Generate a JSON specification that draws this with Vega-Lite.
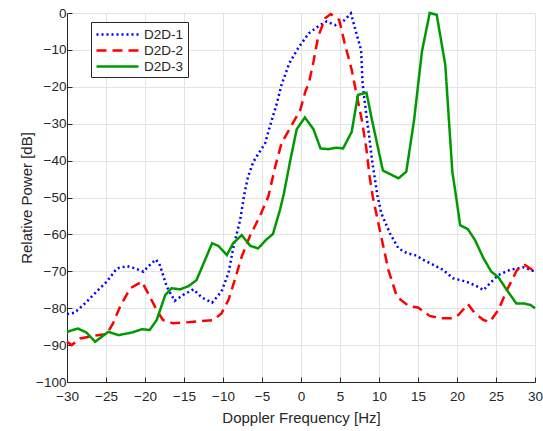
{
  "$schema": "https://vega.github.io/schema/vega-lite/v6.json",
  "width": 468,
  "height": 369,
  "autosize": {"type": "none"},
  "padding": {"left": 67, "top": 13, "right": 8, "bottom": 49},
  "background": "white",
  "data": {
    "values": [
      {"s":"D2D-1","f":-30,"p":-81.6},{"s":"D2D-1","f":-29,"p":-81.2},{"s":"D2D-1","f":-27.7,"p":-78.7},{"s":"D2D-1","f":-26.2,"p":-75.5},{"s":"D2D-1","f":-24.9,"p":-72.8},{"s":"D2D-1","f":-23.6,"p":-69.2},{"s":"D2D-1","f":-22.3,"p":-68.6},{"s":"D2D-1","f":-21.3,"p":-69.2},{"s":"D2D-1","f":-20.2,"p":-70.1},{"s":"D2D-1","f":-19.6,"p":-68.7},{"s":"D2D-1","f":-18.6,"p":-66.8},{"s":"D2D-1","f":-18.1,"p":-68.3},{"s":"D2D-1","f":-17.2,"p":-74.2},{"s":"D2D-1","f":-16.2,"p":-78.0},{"s":"D2D-1","f":-15.1,"p":-76.4},{"s":"D2D-1","f":-13.8,"p":-74.9},{"s":"D2D-1","f":-12.7,"p":-77.1},{"s":"D2D-1","f":-11.4,"p":-78.5},{"s":"D2D-1","f":-10.2,"p":-75.5},{"s":"D2D-1","f":-9.3,"p":-70.5},{"s":"D2D-1","f":-8.7,"p":-63.8},{"s":"D2D-1","f":-7.8,"p":-56.1},{"s":"D2D-1","f":-7.3,"p":-49.5},{"s":"D2D-1","f":-6.8,"p":-44.4},{"s":"D2D-1","f":-6.1,"p":-40.3},{"s":"D2D-1","f":-5.3,"p":-37.6},{"s":"D2D-1","f":-4.6,"p":-35.3},{"s":"D2D-1","f":-4.0,"p":-30.8},{"s":"D2D-1","f":-3.1,"p":-24.5},{"s":"D2D-1","f":-2.5,"p":-19.5},{"s":"D2D-1","f":-1.5,"p":-13.6},{"s":"D2D-1","f":-0.3,"p":-9.3},{"s":"D2D-1","f":1.0,"p":-5.5},{"s":"D2D-1","f":2.4,"p":-3.3},{"s":"D2D-1","f":3.3,"p":-2.3},{"s":"D2D-1","f":4.4,"p":-3.3},{"s":"D2D-1","f":5.4,"p":-2.3},{"s":"D2D-1","f":6.4,"p":-0.1},{"s":"D2D-1","f":7.1,"p":-5.5},{"s":"D2D-1","f":7.7,"p":-10.0},{"s":"D2D-1","f":7.9,"p":-19.1},{"s":"D2D-1","f":8.3,"p":-26.3},{"s":"D2D-1","f":8.8,"p":-34.4},{"s":"D2D-1","f":9.1,"p":-39.8},{"s":"D2D-1","f":9.5,"p":-45.3},{"s":"D2D-1","f":9.8,"p":-49.5},{"s":"D2D-1","f":10.3,"p":-54.3},{"s":"D2D-1","f":11.4,"p":-59.7},{"s":"D2D-1","f":12.5,"p":-63.8},{"s":"D2D-1","f":13.6,"p":-65.1},{"s":"D2D-1","f":14.6,"p":-65.6},{"s":"D2D-1","f":15.7,"p":-66.9},{"s":"D2D-1","f":17.0,"p":-68.3},{"s":"D2D-1","f":18.2,"p":-69.6},{"s":"D2D-1","f":19.5,"p":-71.9},{"s":"D2D-1","f":21.2,"p":-72.8},{"s":"D2D-1","f":22.5,"p":-74.0},{"s":"D2D-1","f":23.4,"p":-75.1},{"s":"D2D-1","f":24.2,"p":-73.3},{"s":"D2D-1","f":25.3,"p":-71.0},{"s":"D2D-1","f":26.8,"p":-69.6},{"s":"D2D-1","f":28.5,"p":-68.9},{"s":"D2D-1","f":30,"p":-70.1},
      {"s":"D2D-2","f":-30,"p":-89.1},{"s":"D2D-2","f":-29.4,"p":-90.0},{"s":"D2D-2","f":-28.3,"p":-88.2},{"s":"D2D-2","f":-26.6,"p":-87.5},{"s":"D2D-2","f":-24.9,"p":-87.0},{"s":"D2D-2","f":-24.1,"p":-84.1},{"s":"D2D-2","f":-23.2,"p":-79.6},{"s":"D2D-2","f":-21.9,"p":-74.6},{"s":"D2D-2","f":-20.4,"p":-72.8},{"s":"D2D-2","f":-19.6,"p":-76.0},{"s":"D2D-2","f":-18.5,"p":-80.5},{"s":"D2D-2","f":-17.7,"p":-83.2},{"s":"D2D-2","f":-16.4,"p":-84.1},{"s":"D2D-2","f":-13.8,"p":-83.7},{"s":"D2D-2","f":-11.2,"p":-83.2},{"s":"D2D-2","f":-10.2,"p":-81.4},{"s":"D2D-2","f":-9.3,"p":-77.8},{"s":"D2D-2","f":-8.5,"p":-72.4},{"s":"D2D-2","f":-7.6,"p":-66.0},{"s":"D2D-2","f":-6.5,"p":-60.2},{"s":"D2D-2","f":-5.3,"p":-55.2},{"s":"D2D-2","f":-4.2,"p":-49.8},{"s":"D2D-2","f":-3.3,"p":-41.6},{"s":"D2D-2","f":-2.5,"p":-35.3},{"s":"D2D-2","f":-1.4,"p":-31.2},{"s":"D2D-2","f":-0.1,"p":-26.3},{"s":"D2D-2","f":0.6,"p":-21.0},{"s":"D2D-2","f":1.0,"p":-19.1},{"s":"D2D-2","f":1.6,"p":-13.2},{"s":"D2D-2","f":2.2,"p":-6.4},{"s":"D2D-2","f":3.1,"p":-1.4},{"s":"D2D-2","f":3.8,"p":-0.3},{"s":"D2D-2","f":4.9,"p":-1.9},{"s":"D2D-2","f":5.6,"p":-8.2},{"s":"D2D-2","f":6.5,"p":-15.4},{"s":"D2D-2","f":7.1,"p":-21.8},{"s":"D2D-2","f":7.8,"p":-29.0},{"s":"D2D-2","f":8.4,"p":-37.1},{"s":"D2D-2","f":8.8,"p":-44.4},{"s":"D2D-2","f":9.2,"p":-49.8},{"s":"D2D-2","f":10.1,"p":-58.8},{"s":"D2D-2","f":11.2,"p":-69.6},{"s":"D2D-2","f":12.3,"p":-76.9},{"s":"D2D-2","f":13.8,"p":-79.4},{"s":"D2D-2","f":15.0,"p":-79.8},{"s":"D2D-2","f":16.5,"p":-82.1},{"s":"D2D-2","f":17.8,"p":-82.7},{"s":"D2D-2","f":19.3,"p":-82.7},{"s":"D2D-2","f":20.2,"p":-81.8},{"s":"D2D-2","f":21.4,"p":-78.9},{"s":"D2D-2","f":22.3,"p":-81.4},{"s":"D2D-2","f":23.4,"p":-83.2},{"s":"D2D-2","f":24.2,"p":-83.7},{"s":"D2D-2","f":25.3,"p":-80.5},{"s":"D2D-2","f":26.4,"p":-75.1},{"s":"D2D-2","f":27.7,"p":-69.6},{"s":"D2D-2","f":28.7,"p":-68.3},{"s":"D2D-2","f":30,"p":-70.1},
      {"s":"D2D-3","f":-30,"p":-86.4},{"s":"D2D-3","f":-28.6,"p":-85.5},{"s":"D2D-3","f":-27.5,"p":-86.6},{"s":"D2D-3","f":-26.4,"p":-89.1},{"s":"D2D-3","f":-24.7,"p":-86.4},{"s":"D2D-3","f":-23.4,"p":-87.3},{"s":"D2D-3","f":-21.7,"p":-86.6},{"s":"D2D-3","f":-20.4,"p":-85.7},{"s":"D2D-3","f":-19.4,"p":-85.9},{"s":"D2D-3","f":-18.5,"p":-83.2},{"s":"D2D-3","f":-17.4,"p":-76.4},{"s":"D2D-3","f":-16.6,"p":-74.6},{"s":"D2D-3","f":-15.5,"p":-74.9},{"s":"D2D-3","f":-14.4,"p":-74.0},{"s":"D2D-3","f":-13.4,"p":-72.4},{"s":"D2D-3","f":-11.4,"p":-62.4},{"s":"D2D-3","f":-10.6,"p":-63.1},{"s":"D2D-3","f":-9.5,"p":-65.6},{"s":"D2D-3","f":-8.7,"p":-62.4},{"s":"D2D-3","f":-7.6,"p":-60.2},{"s":"D2D-3","f":-6.5,"p":-63.1},{"s":"D2D-3","f":-5.5,"p":-63.8},{"s":"D2D-3","f":-4.4,"p":-61.3},{"s":"D2D-3","f":-3.6,"p":-59.9},{"s":"D2D-3","f":-2.7,"p":-53.4},{"s":"D2D-3","f":-2.2,"p":-49.0},{"s":"D2D-3","f":-1.4,"p":-40.2},{"s":"D2D-3","f":-0.55,"p":-31.5},{"s":"D2D-3","f":0.5,"p":-28.3},{"s":"D2D-3","f":1.6,"p":-31.5},{"s":"D2D-3","f":2.5,"p":-36.7},{"s":"D2D-3","f":3.5,"p":-36.9},{"s":"D2D-3","f":4.5,"p":-36.5},{"s":"D2D-3","f":5.4,"p":-36.7},{"s":"D2D-3","f":6.5,"p":-32.2},{"s":"D2D-3","f":7.3,"p":-22.2},{"s":"D2D-3","f":8.4,"p":-21.6},{"s":"D2D-3","f":9.1,"p":-29.0},{"s":"D2D-3","f":10.5,"p":-42.7},{"s":"D2D-3","f":12.5,"p":-44.8},{"s":"D2D-3","f":13.5,"p":-43.0},{"s":"D2D-3","f":14.5,"p":-29.0},{"s":"D2D-3","f":15.5,"p":-10.5},{"s":"D2D-3","f":16.5,"p":0},{"s":"D2D-3","f":17.4,"p":-0.5},{"s":"D2D-3","f":18.5,"p":-14.1},{"s":"D2D-3","f":19.4,"p":-43.0},{"s":"D2D-3","f":19.9,"p":-50.0},{"s":"D2D-3","f":20.4,"p":-57.5},{"s":"D2D-3","f":21.4,"p":-58.6},{"s":"D2D-3","f":22.3,"p":-61.5},{"s":"D2D-3","f":23.4,"p":-66.5},{"s":"D2D-3","f":24.4,"p":-70.1},{"s":"D2D-3","f":25.3,"p":-71.6},{"s":"D2D-3","f":26.4,"p":-75.1},{"s":"D2D-3","f":27.6,"p":-78.7},{"s":"D2D-3","f":28.5,"p":-78.7},{"s":"D2D-3","f":29.4,"p":-79.1},{"s":"D2D-3","f":30,"p":-80.0}
    ]
  },
  "mark": {"type": "line", "strokeWidth": 2.5, "clip": false},
  "encoding": {
    "x": {
      "field": "f", "type": "quantitative",
      "scale": {"domain": [-30, 30], "nice": false, "zero": false},
      "axis": {"title": "Doppler Frequency [Hz]", "values": [-30,-25,-20,-15,-10,-5,0,5,10,15,20,25,30], "labelFlush": false, "labelOverlap": false, "labelPadding": 12, "titlePadding": 8}
    },
    "y": {
      "field": "p", "type": "quantitative",
      "scale": {"domain": [-100, 0], "nice": false, "zero": false},
      "axis": {"title": "Relative Power [dB]", "values": [0,-10,-20,-30,-40,-50,-60,-70,-80,-90,-100], "labelFlush": false, "labelOverlap": false, "labelPadding": 6, "titlePadding": 1}
    },
    "color": {
      "field": "s", "type": "nominal",
      "scale": {"domain": ["D2D-1","D2D-2","D2D-3"], "range": ["#0000ff","#ff0000","#009a00"]},
      "legend": {"title": null}
    },
    "strokeDash": {
      "field": "s", "type": "nominal",
      "scale": {"domain": ["D2D-1","D2D-2","D2D-3"], "range": [[2,3],[10,6],[1,0]]},
      "legend": {"title": null}
    }
  },
  "config": {
    "view": {"stroke": null},
    "font": "Liberation Sans",
    "axis": {
      "domainColor": "#262626", "tickColor": "#262626", "labelColor": "#262626", "titleColor": "#262626",
      "gridColor": "#e3e3e3", "gridWidth": 1, "grid": true,
      "labelFont": "Liberation Sans", "titleFont": "Liberation Sans",
      "labelFontSize": 13.5, "titleFontSize": 15, "titleFontWeight": "normal",
      "tickSize": -5, "domainWidth": 1
    },
    "legend": {
      "orient": "none", "legendX": 24, "legendY": 9,
      "fillColor": "white", "strokeColor": "#262626",
      "padding": 4, "symbolType": "M-3,0H3", "symbolSize": 196, "symbolStrokeWidth": 2.5,
      "symbolOffset": 14, "labelOffset": 18,
      "labelFont": "Liberation Sans", "labelFontSize": 13.5, "labelColor": "#262626",
      "rowPadding": 1
    }
  }
}
